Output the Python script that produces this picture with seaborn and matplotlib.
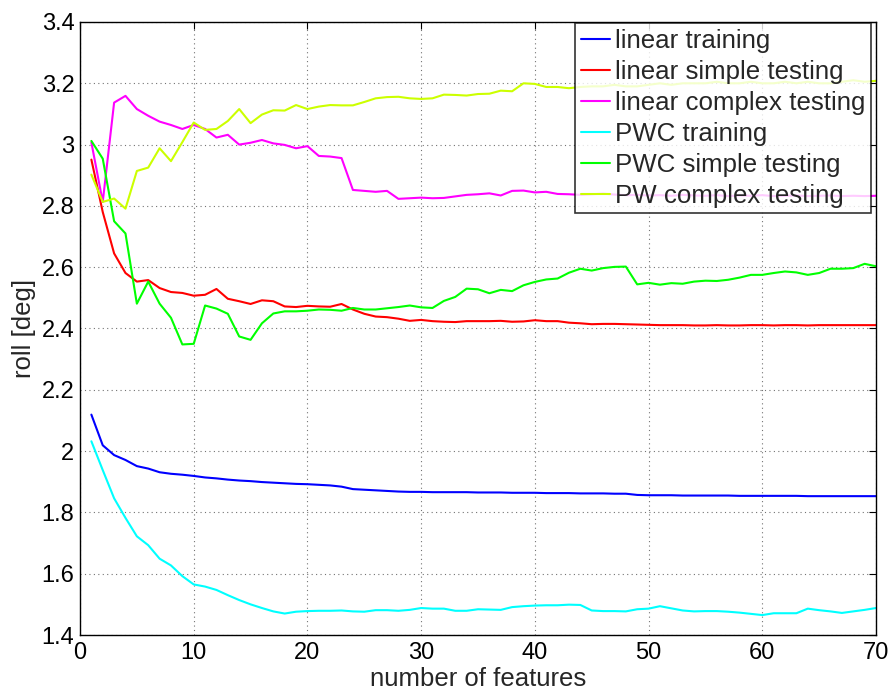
import numpy as np
import pandas as pd
import matplotlib
matplotlib.use("Agg")
import matplotlib.pyplot as plt
import seaborn as sns
from matplotlib.ticker import FuncFormatter

features = list(range(1, 71))

linear_training = [2.119, 2.019, 1.987, 1.971, 1.951, 1.943, 1.931, 1.926, 1.923, 1.919,
                   1.914, 1.911, 1.907, 1.904, 1.902, 1.899, 1.897, 1.895, 1.893, 1.892,
                   1.890, 1.888, 1.884, 1.876, 1.874, 1.872, 1.870, 1.868, 1.867, 1.867,
                   1.866, 1.866, 1.866, 1.866, 1.865, 1.865, 1.865, 1.864, 1.864, 1.864,
                   1.863, 1.863, 1.863, 1.862, 1.862, 1.862, 1.861, 1.861, 1.857, 1.856,
                   1.856, 1.856, 1.855, 1.855, 1.855, 1.855, 1.855, 1.854, 1.854, 1.854,
                   1.854, 1.854, 1.854, 1.853, 1.853, 1.853, 1.853, 1.853, 1.853, 1.853]

linear_simple = [2.951, 2.780, 2.645, 2.581, 2.553, 2.558, 2.532, 2.519, 2.516, 2.507,
                 2.510, 2.529, 2.497, 2.489, 2.480, 2.492, 2.489, 2.472, 2.470, 2.474,
                 2.472, 2.471, 2.480, 2.462, 2.448, 2.439, 2.437, 2.432, 2.425, 2.428,
                 2.424, 2.422, 2.421, 2.424, 2.424, 2.424, 2.425, 2.422, 2.423, 2.427,
                 2.424, 2.424, 2.419, 2.417, 2.414, 2.415, 2.415, 2.414, 2.413, 2.412,
                 2.411, 2.411, 2.411, 2.410, 2.410, 2.411, 2.410, 2.410, 2.411, 2.411,
                 2.410, 2.411, 2.411, 2.410, 2.411, 2.411, 2.411, 2.411, 2.411, 2.411]

linear_complex = [3.007, 2.813, 3.137, 3.159, 3.116, 3.094, 3.075, 3.064, 3.051, 3.064,
                  3.051, 3.023, 3.032, 3.000, 3.006, 3.015, 3.004, 2.999, 2.988, 2.995,
                  2.963, 2.961, 2.956, 2.852, 2.849, 2.846, 2.849, 2.823, 2.825, 2.827,
                  2.825, 2.826, 2.831, 2.836, 2.838, 2.841, 2.834, 2.849, 2.850, 2.844,
                  2.846, 2.839, 2.838, 2.836, 2.838, 2.840, 2.837, 2.835, 2.836, 2.834,
                  2.835, 2.833, 2.836, 2.834, 2.833, 2.835, 2.832, 2.834, 2.833, 2.835,
                  2.832, 2.833, 2.834, 2.832, 2.833, 2.834, 2.832, 2.833, 2.832, 2.833]

pwc_training = [2.032, 1.938, 1.846, 1.782, 1.722, 1.693, 1.649, 1.627, 1.592, 1.565,
                1.558, 1.547, 1.530, 1.514, 1.500, 1.488, 1.477, 1.470, 1.476, 1.478,
                1.479, 1.479, 1.480, 1.477, 1.476, 1.481, 1.481, 1.479, 1.482, 1.488,
                1.486, 1.486, 1.479, 1.479, 1.484, 1.483, 1.482, 1.491, 1.494, 1.496,
                1.497, 1.497, 1.499, 1.498, 1.480, 1.478, 1.478, 1.477, 1.484, 1.486,
                1.494, 1.487, 1.480, 1.477, 1.478, 1.478, 1.476, 1.473, 1.469, 1.465,
                1.471, 1.471, 1.471, 1.486, 1.481, 1.477, 1.472, 1.477, 1.482, 1.488]

pwc_simple = [3.012, 2.954, 2.750, 2.710, 2.481, 2.553, 2.481, 2.435, 2.348, 2.350,
              2.475, 2.465, 2.448, 2.374, 2.363, 2.417, 2.449, 2.456, 2.456, 2.458,
              2.462, 2.461, 2.458, 2.467, 2.462, 2.462, 2.466, 2.470, 2.475, 2.469,
              2.467, 2.490, 2.503, 2.530, 2.528, 2.515, 2.526, 2.522, 2.541, 2.552,
              2.560, 2.563, 2.582, 2.595, 2.589, 2.597, 2.601, 2.602, 2.544, 2.549,
              2.543, 2.548, 2.546, 2.553, 2.556, 2.555, 2.559, 2.566, 2.575, 2.575,
              2.581, 2.586, 2.583, 2.575, 2.581, 2.595, 2.595, 2.597, 2.611, 2.603]

pw_complex = [2.902, 2.813, 2.824, 2.791, 2.914, 2.925, 2.988, 2.946, 3.008, 3.072,
              3.048, 3.051, 3.077, 3.116, 3.070, 3.098, 3.112, 3.111, 3.129, 3.116,
              3.124, 3.129, 3.128, 3.128, 3.139, 3.151, 3.155, 3.156, 3.151, 3.149,
              3.151, 3.163, 3.162, 3.160, 3.165, 3.166, 3.176, 3.174, 3.200, 3.198,
              3.188, 3.188, 3.184, 3.188, 3.190, 3.190, 3.195, 3.190, 3.190, 3.195,
              3.200, 3.195, 3.200, 3.200, 3.200, 3.205, 3.200, 3.200, 3.205, 3.200,
              3.200, 3.205, 3.200, 3.205, 3.200, 3.200, 3.205, 3.210, 3.205, 3.208]

series_names = ["linear training", "linear simple testing", "linear complex testing",
                "PWC training", "PWC simple testing", "PW complex testing"]
series_values = [linear_training, linear_simple, linear_complex,
                 pwc_training, pwc_simple, pw_complex]
colors = ["#0000ff", "#ff0000", "#ff00ff", "#00ffff", "#00ff00", "#ccff00"]

x_ticks = [0, 10, 20, 30, 40, 50, 60, 70]
y_ticks = [1.4, 1.6, 1.8, 2.0, 2.2, 2.4, 2.6, 2.8, 3.0, 3.2, 3.4]

df = pd.concat([pd.DataFrame({"features": features, "roll": vals, "series": name})
                for name, vals in zip(series_names, series_values)], ignore_index=True)

sns.set_style("white")
plt.rcParams["font.family"] = ["Liberation Sans", "DejaVu Sans"]

fig = plt.figure(figsize=(8.94, 6.95), dpi=100)
ax = fig.add_axes([80 / 894, 1 - 635 / 695, 796 / 894, 613 / 695])

sns.lineplot(data=df, x="features", y="roll", hue="series", hue_order=series_names,
             palette=colors, linewidth=1.5, ax=ax, legend=True)

ax.set_xlim(0, 70)
ax.set_ylim(1.4, 3.4)
ax.set_xticks(x_ticks)
ax.set_yticks(y_ticks)
ax.yaxis.set_major_formatter(FuncFormatter(lambda v, p: f"{v:g}"))
ax.tick_params(direction="in", top=True, right=True, length=5, width=0.8,
               labelsize=17, colors="black", pad=4)
ax.tick_params(axis="x", pad=5)
ax.grid(True, linestyle=(0, (1, 3)), color="0.45", linewidth=0.8)
for s in ax.spines.values():
    s.set_visible(True)
    s.set_color("black")
    s.set_linewidth(1.0)

ax.set_xlabel("number of features", fontsize=18.5, labelpad=2)
ax.set_ylabel("roll [deg]", fontsize=18.5, labelpad=4)

leg = ax.legend(loc="upper right", bbox_to_anchor=(1 - 5 / 796, 1 - 1 / 613),
                borderaxespad=0, fontsize=18.6, frameon=True, fancybox=False,
                handlelength=1.15, handletextpad=0.18, labelspacing=0.27,
                borderpad=0.22)
leg.get_frame().set_edgecolor("black")
leg.get_frame().set_linewidth(1.2)
for line in leg.get_lines():
    line.set_linewidth(1.5)

fig.savefig("out.png", dpi=100)
